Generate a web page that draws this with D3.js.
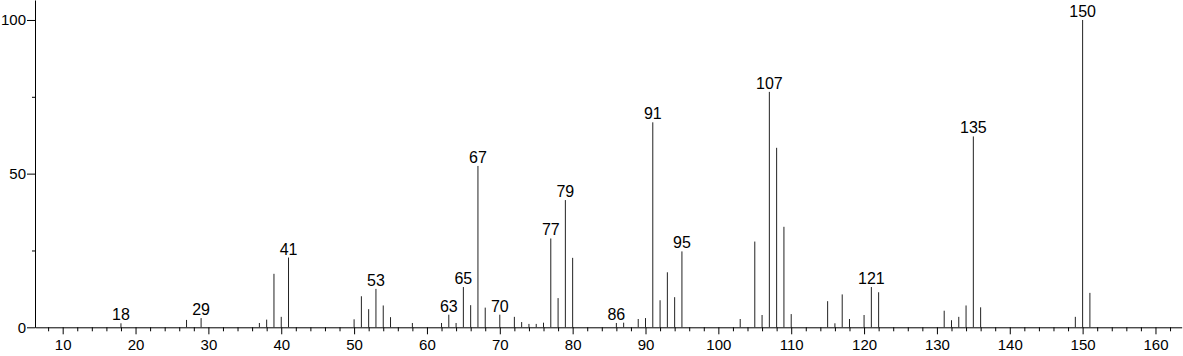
<!DOCTYPE html>
<html>
<head>
<meta charset="utf-8">
<script src="https://cdn.jsdelivr.net/npm/d3@7"></script>
<style>
  html, body { margin: 0; padding: 0; background: #fff; }
  svg { display: block; }
  text { font-family: "Liberation Sans", Arial, Helvetica, sans-serif; fill: #000; }
</style>
</head>
<body>
<svg id="chart" width="1183" height="356"></svg>
<script>
// m/z values and relative intensities
const mz = [18, 27, 29, 37, 38, 39, 40, 41, 50, 51, 52, 53, 54, 55, 58,
            62, 63, 64, 65, 66, 67, 68, 70, 72, 73, 74, 75, 76, 77, 78, 79, 80,
            86, 87, 89, 90, 91, 92, 93, 94, 95, 103, 105, 106, 107, 108, 109, 110,
            115, 116, 117, 118, 120, 121, 122, 131, 132, 133, 134, 135, 136,
            149, 150, 151];
const intensity = [1.3, 2.4, 3.0, 1.4, 2.5, 17.4, 3.4, 22.7, 2.6, 10.1, 5.9, 12.5, 7.1, 3.3, 1.4,
            1.4, 4.1, 1.4, 13.1, 7.2, 52.5, 6.4, 4.1, 3.4, 1.7, 1.1, 1.1, 1.5, 28.9, 9.5, 41.4, 22.6,
            1.4, 1.5, 2.7, 3.0, 66.7, 8.8, 17.9, 9.8, 24.7, 2.7, 27.9, 4.0, 76.6, 58.4, 32.7, 4.3,
            8.5, 1.3, 10.7, 2.7, 4.0, 13.1, 11.4, 5.4, 2.3, 3.4, 7.1, 62.1, 6.5,
            3.4, 100, 11.2];
const labeledPeaks = [18, 29, 41, 53, 63, 65, 67, 70, 77, 79, 86, 91, 95, 107, 121, 135, 150];
const xMajorTicks = [10, 20, 30, 40, 50, 60, 70, 80, 90, 100, 110, 120, 130, 140, 150, 160];
const yMajorTicks = [0, 50, 100];
const yMinorTicks = [25, 75];

const peaks = mz.map((m, i) => ({ m, v: intensity[i] }));

const svg = d3.select("#chart");
const x = d3.scaleLinear().domain([6.2, 163.6]).range([35, 1181.7]);
const y = d3.scaleLinear().domain([0, 106.5]).range([327.3, 0]);

const fontSize = "15px";

// minor x ticks every 2 units
const xMinor = d3.range(8, 164, 2).filter(v => v % 10 !== 0);

const gx = svg.append("g").attr("transform", `translate(0,${y(0)})`);
gx.call(d3.axisBottom(x).tickValues(xMinor).tickSize(4).tickFormat(""))
  .call(g => g.select(".domain").remove());
gx.selectAll("line").attr("stroke", "#000");
const gx2 = svg.append("g").attr("transform", `translate(0,${y(0)})`);
gx2.call(d3.axisBottom(x).tickValues(xMajorTicks).tickSize(7).tickSizeOuter(0).tickPadding(5).tickFormat(d3.format("d")));
gx2.select(".domain").attr("stroke", "#000");
gx2.selectAll("line").attr("stroke", "#000");
gx2.selectAll("text").style("font-size", fontSize).attr("font-family", null).attr("dy", "0.71em").attr("y", 12);

// y axis
const gy = svg.append("g").attr("transform", `translate(${x(6.2)},0)`);
gy.call(d3.axisLeft(y).tickValues(yMinorTicks).tickSize(3).tickFormat(""))
  .call(g => g.select(".domain").remove());
gy.selectAll("line").attr("stroke", "#000");
const gy2 = svg.append("g").attr("transform", `translate(${x(6.2)},0)`);
gy2.call(d3.axisLeft(y).tickValues(yMajorTicks).tickSize(8).tickSizeOuter(0).tickPadding(1));
gy2.select(".domain").attr("stroke", "#000");
gy2.selectAll("line").attr("stroke", "#000");
gy2.selectAll("text").style("font-size", fontSize).attr("font-family", null);

// peaks
svg.append("g").selectAll("line").data(peaks).join("line")
  .attr("x1", d => x(d.m)).attr("x2", d => x(d.m))
  .attr("y1", y(0)).attr("y2", d => y(d.v))
  .attr("stroke", "#222").attr("stroke-width", 1);

// peak labels
svg.append("g").selectAll("text").data(peaks.filter(d => labeledPeaks.includes(d.m))).join("text")
  .attr("x", d => x(d.m)).attr("y", d => y(d.v) - 3)
  .attr("text-anchor", "middle")
  .style("font-size", "16px")
  .text(d => d.m);
</script>
</body>
</html>
